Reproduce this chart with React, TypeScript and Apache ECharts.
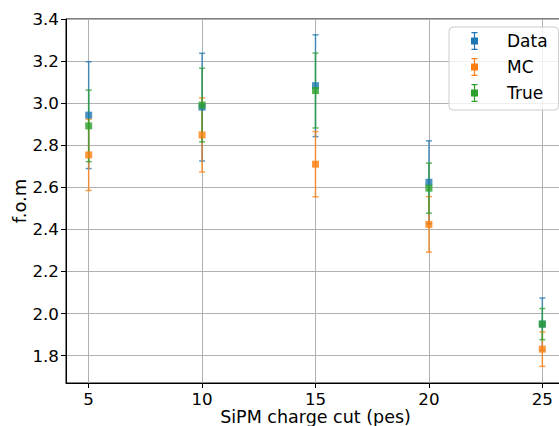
import React, { useEffect, useRef } from 'react';
import * as echarts from 'echarts';

const cuts = [5, 10, 15, 20, 25];
const dataValues = [2.943, 2.981, 3.083, 2.624, 1.95];
const dataErrors = [0.254, 0.256, 0.242, 0.197, 0.124];
const mcValues = [2.754, 2.849, 2.71, 2.424, 1.831];
const mcErrors = [0.169, 0.176, 0.155, 0.132, 0.082];
const trueValues = [2.892, 2.991, 3.06, 2.596, 1.95];
const trueErrors = [0.17, 0.175, 0.178, 0.119, 0.074];
const xTicks = [5, 10, 15, 20, 25];
const yTicks = [1.8, 2.0, 2.2, 2.4, 2.6, 2.8, 3.0, 3.2, 3.4];

const seriesDefs = [
  { name: 'Data', color: '#1f77b4', values: dataValues, errors: dataErrors },
  { name: 'MC', color: '#ff7f0e', values: mcValues, errors: mcErrors },
  { name: 'True', color: '#2ca02c', values: trueValues, errors: trueErrors },
];

const ICON =
  'path://M0,0H6V1.2H0Z M2.4,0H3.6V18H2.4Z M0,16.8H6V18H0Z M-0.5,5.5H6.5V12.5H-0.5Z';

const FONT = 'DejaVu Sans';

export default function App() {
  const ref = useRef<HTMLDivElement>(null);
  useEffect(() => {
    document.body.style.margin = '0';
    if (!ref.current) return;
    const chart = echarts.init(ref.current, undefined, { renderer: 'svg' });
    const series: any[] = [];
    seriesDefs.forEach((s) => {
      series.push({
        name: s.name,
        type: 'custom',
        z: 2,
        itemStyle: { color: s.color },
        encode: { x: 0, y: 1 },
        data: cuts.map((c, i) => [c, s.values[i], s.errors[i]]),
        renderItem: (params: any, api: any) => {
          const x = api.value(0);
          const y = api.value(1);
          const e = api.value(2);
          const top = api.coord([x, y + e]);
          const bot = api.coord([x, y - e]);
          const cap = 3;
          const style = { stroke: s.color, lineWidth: 1.5, opacity: 0.75 };
          return {
            type: 'group',
            children: [
              { type: 'line', shape: { x1: top[0], y1: top[1], x2: bot[0], y2: bot[1] }, style },
              { type: 'line', shape: { x1: top[0] - cap, y1: top[1], x2: top[0] + cap, y2: top[1] }, style },
              { type: 'line', shape: { x1: bot[0] - cap, y1: bot[1], x2: bot[0] + cap, y2: bot[1] }, style },
            ],
          };
        },
      });
    });
    seriesDefs.forEach((s) => {
      series.push({
        name: s.name,
        type: 'scatter',
        z: 3,
        symbol: 'rect',
        symbolSize: 7,
        itemStyle: { color: s.color },
        data: cuts.map((c, i) => [c, s.values[i]]),
      });
    });

    chart.setOption({
      animation: false,
      textStyle: { fontFamily: FONT },
      grid: {
        left: 66,
        top: 19,
        width: 499,
        height: 364,
        containLabel: false,
        outerBoundsMode: 'none',
        show: true,
        borderColor: '#000',
        borderWidth: 1,
        backgroundColor: 'transparent',
      },
      legend: {
        orient: 'vertical',
        left: 449,
        top: 27,
        padding: [5, 11, 8, 22],
        itemGap: 8,
        itemWidth: 7,
        itemHeight: 18,
        selectedMode: false,
        backgroundColor: 'rgba(255,255,255,0.8)',
        borderColor: '#cccccc',
        borderWidth: 1,
        borderRadius: 4,
        textStyle: { fontSize: 17, color: '#000', fontFamily: FONT, padding: [0, 0, 0, 24] },
        data: seriesDefs.map((s) => ({ name: s.name, icon: ICON, itemStyle: { color: s.color } })),
      },
      xAxis: {
        type: 'value',
        min: 4,
        max: 26,
        splitNumber: 5,
        name: 'SiPM charge cut (pes)',
        nameLocation: 'middle',
        nameGap: 25,
        nameMoveOverlap: false,
        nameTextStyle: { fontSize: 17.5, color: '#000', fontFamily: FONT },
        axisLine: { show: true, lineStyle: { color: '#000', width: 1 } },
        axisTick: { show: true, length: 5, lineStyle: { color: '#000' }, customValues: xTicks },
        axisLabel: {
          fontSize: 16.7,
          color: '#000',
          fontFamily: FONT,
          margin: 7,
          customValues: xTicks,
          formatter: (v: number) => String(Math.round(v)),
        },
        splitLine: { show: true, lineStyle: { color: '#b0b0b0', width: 1 } },
      },
      yAxis: {
        type: 'value',
        min: 1.67,
        max: 3.4,
        splitNumber: 8,
        name: 'f.o.m',
        nameLocation: 'middle',
        nameGap: 38,
        nameMoveOverlap: false,
        nameTextStyle: { fontSize: 18, color: '#000', fontFamily: FONT },
        axisLine: { show: true, lineStyle: { color: '#000', width: 1 } },
        axisTick: { show: true, length: 5, lineStyle: { color: '#000' }, customValues: yTicks },
        axisLabel: {
          fontSize: 16.7,
          color: '#000',
          fontFamily: FONT,
          margin: 7,
          customValues: yTicks,
          formatter: (v: number) => v.toFixed(1),
        },
        splitLine: { show: true, lineStyle: { color: '#b0b0b0', width: 1 } },
      },
      series,
    });
    return () => chart.dispose();
  }, []);
  return <div ref={ref} style={{ width: 559, height: 426 }} />;
}
